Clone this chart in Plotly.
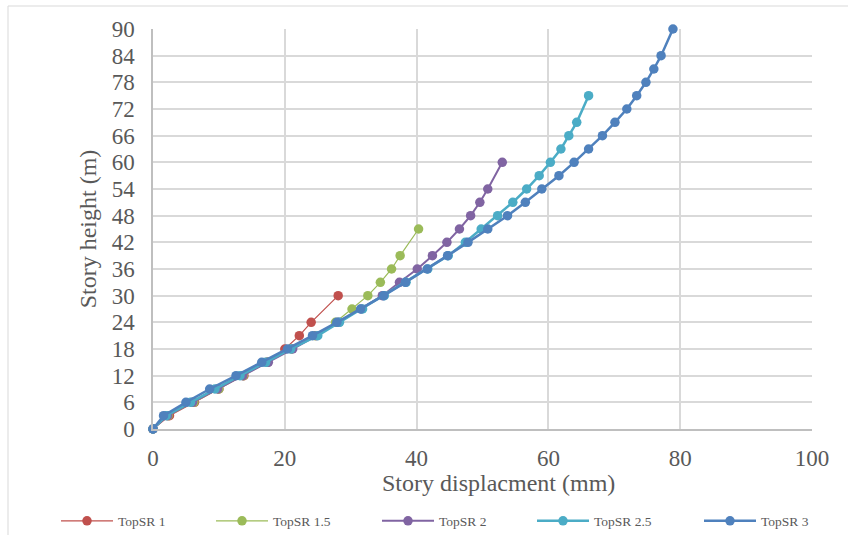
import plotly.graph_objects as go

# Story displacement profiles for different top setback ratios
series_names = ["TopSR 1", "TopSR 1.5", "TopSR 2", "TopSR 2.5", "TopSR 3"]

h_sr1 = [0, 3, 6, 9, 12, 15, 18, 21, 24, 30]
d_sr1 = [0, 2.5, 6.3, 10.0, 13.8, 17.3, 20.0, 22.2, 24.0, 28.1]

h_sr15 = [0, 3, 6, 9, 12, 15, 18, 21, 24, 27, 30, 33, 36, 39, 45]
d_sr15 = [0, 2.3, 6.2, 10.0, 13.7, 17.4, 21.0, 24.6, 27.7, 30.2, 32.6, 34.5, 36.2, 37.5, 40.3]

h_sr2 = [0, 3, 6, 9, 12, 15, 18, 21, 24, 27, 30, 33, 36, 39, 42, 45, 48, 51, 54, 60]
d_sr2 = [0, 2.2, 6.0, 9.8, 13.6, 17.5, 21.2, 24.8, 28.2, 31.6, 34.8, 37.4, 40.1,
         42.4, 44.6, 46.5, 48.2, 49.6, 50.8, 53.0]

h_sr25 = [0, 3, 6, 9, 12, 15, 18, 21, 24, 27, 30, 33, 36, 39, 42, 45, 48, 51, 54,
          57, 60, 63, 66, 69, 75]
d_sr25 = [0, 2.0, 5.7, 9.4, 13.2, 17.1, 20.9, 25.0, 28.3, 31.8, 35.1, 38.4, 41.7,
          44.8, 47.4, 49.8, 52.3, 54.6, 56.7, 58.6, 60.3, 61.9, 63.1, 64.3, 66.1]

h_sr3 = [0, 3, 6, 9, 12, 15, 18, 21, 24, 27, 30, 33, 36, 39, 42, 45, 48, 51, 54,
         57, 60, 63, 66, 69, 72, 75, 78, 81, 84, 90]
d_sr3 = [0, 1.6, 5.0, 8.6, 12.6, 16.5, 20.4, 24.2, 27.9, 31.5, 35.0, 38.3, 41.6,
         44.7, 47.8, 50.8, 53.8, 56.5, 59.0, 61.6, 63.9, 66.1, 68.2, 70.1, 71.9,
         73.4, 74.8, 76.0, 77.1, 78.9]

x_ticks = [0, 20, 40, 60, 80, 100]
y_ticks = list(range(0, 91, 6))

x_title = "Story displacment (mm)"
y_title = "Story height (m)"

heights = [h_sr1, h_sr15, h_sr2, h_sr25, h_sr3]
disps = [d_sr1, d_sr15, d_sr2, d_sr25, d_sr3]
colors = ["#C0504D", "#9BBB59", "#8064A2", "#4BACC6", "#4F81BD"]
widths = [1.2, 1.2, 2.0, 2.5, 2.5]

FONT = "Liberation Serif"
TXT = "#595959"

# Figure geometry (px) used to place the per-series legend entries
W, H = 848, 535
ML, MR, MT, MB = 153, 36, 29, 106
plot_w = W - ML - MR
plot_h = H - MT - MB
legend_left_px = [56, 211, 377, 532, 699]

fig = go.Figure()
legend_ids = ["legend", "legend2", "legend3", "legend4", "legend5"]
for name, hs, ds, c, w, lid in zip(series_names, heights, disps, colors, widths, legend_ids):
    fig.add_trace(go.Scatter(
        x=ds, y=hs, name=name, mode="lines+markers",
        line=dict(color=c, width=w),
        marker=dict(color=c, size=9.5, symbol="circle"),
        cliponaxis=False, legend=lid,
    ))

legend_layout = {}
for lid, px in zip(legend_ids, legend_left_px):
    legend_layout[lid] = dict(
        orientation="h", x=(px - ML) / plot_w, xanchor="left",
        y=-92 / plot_h, yanchor="middle",
        font=dict(family=FONT, size=13.5, color=TXT),
        itemwidth=52, bgcolor="rgba(0,0,0,0)",
    )

fig.update_layout(
    width=W, height=H,
    margin=dict(l=ML, r=MR, t=MT, b=MB, autoexpand=False),
    paper_bgcolor="white", plot_bgcolor="white",
    font=dict(family=FONT, color=TXT),
    showlegend=True,
    xaxis=dict(
        range=[0, 100], tickvals=x_ticks, ticktext=[str(v) for v in x_ticks],
        showgrid=True, gridcolor="#D9D9D9", gridwidth=1.5,
        showline=True, linecolor="#BFBFBF", linewidth=1.5,
        zeroline=False, ticks="", ticklabelstandoff=8,
        tickfont=dict(family=FONT, size=23, color=TXT),
    ),
    yaxis=dict(
        range=[0, 90], tickvals=y_ticks, ticktext=[str(v) for v in y_ticks],
        showgrid=True, gridcolor="#D9D9D9", gridwidth=1.5,
        showline=True, linecolor="#BFBFBF", linewidth=1.5,
        zeroline=False, ticks="", ticklabelstandoff=12,
        tickfont=dict(family=FONT, size=23, color=TXT),
        title=dict(text=y_title, standoff=8,
                   font=dict(family=FONT, size=24, color=TXT)),
    ),
    annotations=[dict(
        text=x_title, xref="paper", yref="paper",
        x=(498 - ML) / plot_w, y=-(483 - MT - plot_h) / plot_h,
        xanchor="center", yanchor="middle", showarrow=False,
        font=dict(family=FONT, size=24, color=TXT),
    )],
    shapes=[dict(
        type="rect", xref="paper", yref="paper",
        x0=(8 - ML) / plot_w, x1=(W + 4 - ML) / plot_w,
        y0=-(H + 5 - MT - plot_h) / plot_h, y1=(plot_h + MT - 6) / plot_h,
        line=dict(color="#D9D9D9", width=1), fillcolor="rgba(0,0,0,0)",
        layer="below",
    )],
    **legend_layout,
)

fig.write_html("out.html")
